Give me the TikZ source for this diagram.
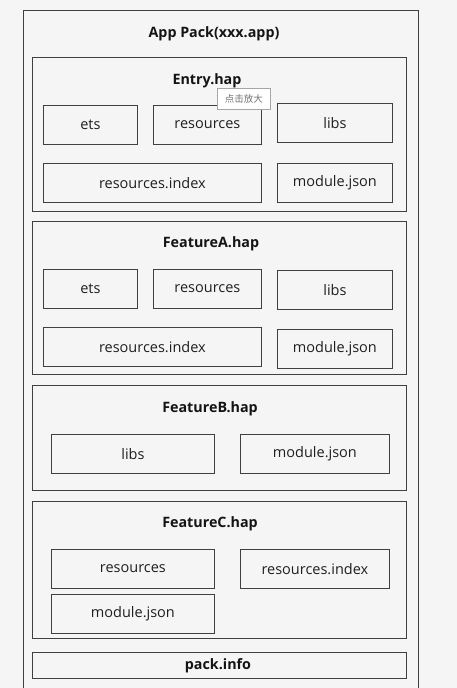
\documentclass[tikz,border=0pt]{standalone}
\usepackage{fontspec}
\setmainfont{Open Sans}
\newfontfamily\cjk{Noto Sans CJK SC}
\begin{document}
\begin{tikzpicture}[x=1pt,y=-1pt,
  box/.style={draw=black!75,line width=0.8pt,fill=bgc,rectangle,inner sep=0pt,anchor=north west,font=\fontsize{14.5}{16}\selectfont,text=black!88},
  ttl/.style={font=\fontsize{14.3}{16}\selectfont\bfseries,text=black!92,inner sep=0pt}]
\definecolor{bgc}{HTML}{F5F5F5}
\useasboundingbox (0,0) rectangle (457,688);
\fill[bgc] (0,0) rectangle (457,688);
\begin{scope}
\clip (0,0) rectangle (457,688);
\node[box,minimum width=395pt,minimum height=690pt] (outer) at (23,10) {};
\end{scope}
\node[ttl] (app) at (214,34) {App Pack(xxx.app)};
% Entry
\node[box,minimum width=374pt,minimum height=154pt] (entry) at (31.5,56.7) {};
\node[ttl] (entryt) at (207,81) {Entry.hap};
\node[box,minimum width=94pt,minimum height=39pt] (e1) at (43,105) {ets};
\node[box,minimum width=108pt,minimum height=39pt] (e2) at (153,105) {resources};
\node[box,minimum width=115pt,minimum height=39pt] (e3) at (277,103) {libs};
\node[box,minimum width=218pt,minimum height=39pt] (e4) at (43,163) {resources.index};
\node[box,minimum width=115pt,minimum height=39pt] (e5) at (277,163) {module.json};
\node[draw=black!35,fill=white,line width=0.5pt,anchor=north west,minimum width=53pt,minimum height=21pt,inner sep=0pt,font=\cjk\fontsize{9.5}{11}\selectfont,text=black!55] (tip) at (217,88) {点击放大};
% FeatureA
\node[box,minimum width=374pt,minimum height=153pt] (fa) at (31.5,221) {};
\node[ttl] (fat) at (211,244) {FeatureA.hap};
\node[box,minimum width=94pt,minimum height=39pt] (a1) at (43,269) {ets};
\node[box,minimum width=108pt,minimum height=39pt] (a2) at (153,269) {resources};
\node[box,minimum width=115pt,minimum height=39pt] (a3) at (277,270) {libs};
\node[box,minimum width=218pt,minimum height=39pt] (a4) at (43,327) {resources.index};
\node[box,minimum width=115pt,minimum height=39pt] (a5) at (277,329) {module.json};
% FeatureB
\node[box,minimum width=374pt,minimum height=105pt] (fb) at (31.5,385) {};
\node[ttl] (fbt) at (210,409) {FeatureB.hap};
\node[box,minimum width=163pt,minimum height=39pt] (b1) at (51,434) {libs};
\node[box,minimum width=149pt,minimum height=39pt] (b2) at (240,434) {module.json};
% FeatureC
\node[box,minimum width=374pt,minimum height=137pt] (fc) at (31.5,501) {};
\node[ttl] (fct) at (210,524) {FeatureC.hap};
\node[box,minimum width=163pt,minimum height=39pt] (c1) at (51,549) {resources};
\node[box,minimum width=149pt,minimum height=39pt] (c2) at (240,549) {resources.index};
\node[box,minimum width=163pt,minimum height=39pt] (c3) at (51,594) {module.json};
% pack.info
\node[box,minimum width=374pt,minimum height=26pt] (pack) at (31.5,652) {};
\node[ttl] (packt) at (218,666) {pack.info};
\end{tikzpicture}
\end{document}
